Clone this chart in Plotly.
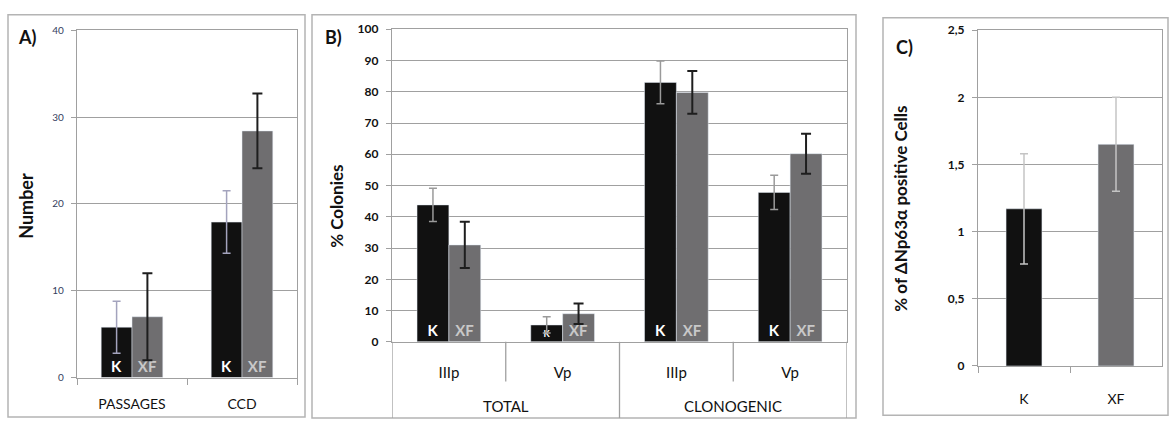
import plotly.graph_objects as go

# ---- data -------------------------------------------------------------
series_names = ["K", "XF"]

# A) passages and cumulative cell doublings
a_categories = ["PASSAGES", "CCD"]
a_k = [5.8, 17.9]
a_k_err = [3.0, 3.6]
a_xf = [7.0, 28.4]
a_xf_err = [5.0, 4.3]

# B) colony-forming efficiency (outer group / inner passage)
b_groups = ["TOTAL", "CLONOGENIC"]
b_inner = ["IIIp", "Vp", "IIIp", "Vp"]
b_k = [43.8, 5.4, 83.0, 47.8]
b_k_err = [5.3, 2.6, 6.8, 5.5]
b_xf = [31.0, 9.0, 79.8, 60.2]
b_xf_err = [7.4, 3.3, 6.8, 6.4]

# C) share of ΔNp63α positive cells
c_categories = ["K", "XF"]
c_values = [1.17, 1.65]
c_err = [0.41, 0.35]

# ---- styling ----------------------------------------------------------
W, H = 1171, 427
FONT = "Lato"
K_COLOR = "#111111"
XF_COLOR = "#6f6e70"
GRID = "#a0a0a0"


def px(x):
    return x / W


def py(y):
    return 1 - y / H


b_pos = list(range(len(b_inner)))

fig = go.Figure()

label_font_k = dict(family=FONT, size=15, color="white", weight="bold")
label_font_xf = dict(family=FONT, size=15, color="#c8c8c8", weight="bold")

# Panel A
fig.add_trace(go.Bar(
    x=a_categories, y=a_k, name=series_names[0], marker_color=K_COLOR,
    text=[series_names[0]] * len(a_k), textposition="inside",
    insidetextanchor="start", textangle=0, textfont=label_font_k,
    error_y=dict(type="data", array=a_k_err, color="#a3a3bd", thickness=1.5, width=4),
    xaxis="x", yaxis="y", showlegend=False))
fig.add_trace(go.Bar(
    x=a_categories, y=a_xf, name=series_names[1], marker_color=XF_COLOR,
    text=[series_names[1]] * len(a_xf), textposition="inside",
    insidetextanchor="start", textangle=0, textfont=label_font_xf,
    error_y=dict(type="data", array=a_xf_err, color="#1e1e1e", thickness=2, width=5),
    xaxis="x", yaxis="y", showlegend=False))

# Panel B
fig.add_trace(go.Bar(
    x=b_pos, y=b_k, name=series_names[0], marker_color=K_COLOR,
    text=[series_names[0]] * len(b_k), textposition="inside",
    insidetextanchor="start", textangle=0, textfont=label_font_k,
    error_y=dict(type="data", array=b_k_err, color="#9a9a9a", thickness=1.5, width=4),
    xaxis="x2", yaxis="y2", showlegend=False))
fig.add_trace(go.Bar(
    x=b_pos, y=b_xf, name=series_names[1], marker_color=XF_COLOR,
    text=[series_names[1]] * len(b_xf), textposition="inside",
    insidetextanchor="start", textangle=0, textfont=label_font_xf,
    error_y=dict(type="data", array=b_xf_err, color="#1e1e1e", thickness=2, width=5),
    xaxis="x2", yaxis="y2", showlegend=False))

# Panel C
fig.add_trace(go.Bar(
    x=c_categories, y=c_values, marker_color=[K_COLOR, XF_COLOR], width=0.39,
    error_y=dict(type="data", array=c_err, color="#c4c4c4", thickness=1.5, width=4),
    xaxis="x3", yaxis="y3", showlegend=False))

common_y = dict(showgrid=True, gridcolor=GRID, gridwidth=1.3, zeroline=False,
                showline=True, linecolor=GRID, linewidth=1.3, mirror=True,
                ticks="outside", ticklen=5, tickcolor=GRID, fixedrange=True,
                ticklabelstandoff=5)
common_x = dict(showline=True, linecolor=GRID, linewidth=1.3, mirror=True,
                showgrid=False, zeroline=False, fixedrange=True)
cat_tick = dict(ticks="outside", ticklen=6, tickcolor=GRID, tickson="boundaries")

fig.update_layout(
    width=W, height=H,
    margin=dict(l=0, r=0, t=0, b=0),
    paper_bgcolor="white", plot_bgcolor="white",
    barmode="group", bargap=0.44, bargroupgap=0,
    uniformtext=dict(minsize=15, mode="show"),
    font=dict(family=FONT, color="#111111"),
    separators=",.",
    xaxis=dict(domain=[px(77), px(297)], anchor="y", ticklabelstandoff=14,
               tickfont=dict(family=FONT, size=14, color="#111"), **common_x, **cat_tick),
    yaxis=dict(domain=[py(383), py(23)], anchor="x", range=[0, 40], dtick=10,
               tickfont=dict(family=FONT, size=10, color="#34405e"), **common_y),
    xaxis2=dict(domain=[px(392), px(847)], anchor="y2", range=[-0.5, 3.5],
                tickvals=b_pos, ticktext=b_inner, ticks="", ticklabelstandoff=17,
                tickfont=dict(family=FONT, size=15, color="#111"), **common_x),
    yaxis2=dict(domain=[py(346), py(22)], anchor="x2", range=[0, 100], dtick=10,
                tickfont=dict(family=FONT, size=12, color="#111", weight="bold"), **common_y),
    xaxis3=dict(domain=[px(978), px(1162)], anchor="y3", ticklabelstandoff=20,
                tickfont=dict(family=FONT, size=14, color="#111"), **common_x, **cat_tick),
    yaxis3=dict(domain=[py(371), py(23)], anchor="x3", range=[0, 2.5], dtick=0.5,
                tickfont=dict(family=FONT, size=12, color="#111", weight="bold"), **common_y),
)

# B: separators between passages and between outer groups
for i in range(len(b_inner) + 1):
    edge = i - 0.5
    outer = i % 2 == 0
    fig.add_shape(type="line", xref="x2", yref="paper", x0=edge, x1=edge,
                  y0=py(425) if outer else py(387), y1=py(346),
                  line=dict(color=GRID, width=1.3))

# B: outer group labels
for j, g in enumerate(b_groups):
    fig.add_annotation(text=g, xref="x2", yref="paper", x=2 * j + 0.5, y=py(412),
                       xanchor="center", yanchor="middle", showarrow=False,
                       font=dict(family=FONT, size=15, color="#111"))

# axis titles
for text, x, y, size in [("Number", 26, 205, 18), ("% Colonies", 337, 205, 17),
                         ("% of ΔNp63α positive Cells", 901, 208, 17)]:
    fig.add_annotation(text=text, xref="paper", yref="paper", x=px(x), y=py(y),
                       xanchor="center", yanchor="middle", textangle=-90, showarrow=False,
                       font=dict(family=FONT, size=size, weight="bold", color="#111"))

# panel frames
for x0, y0, x1, y1 in [(8, 7, 305, 424), (312, 7, 856, 425), (883, 10, 1168, 422)]:
    fig.add_shape(type="rect", xref="paper", yref="paper",
                  x0=px(x0), x1=px(x1), y0=py(y1), y1=py(y0),
                  line=dict(color="#b4b4b4", width=1.5), layer="below")

# panel letters
for label, x, y in [("A)", 27, 30), ("B)", 333, 30), ("C)", 904, 40)]:
    fig.add_annotation(text=label, xref="paper", yref="paper", x=px(x), y=py(y),
                       xanchor="center", yanchor="middle", showarrow=False,
                       font=dict(family=FONT, size=18, weight="bold", color="#111"))

fig.write_html("out.html")
